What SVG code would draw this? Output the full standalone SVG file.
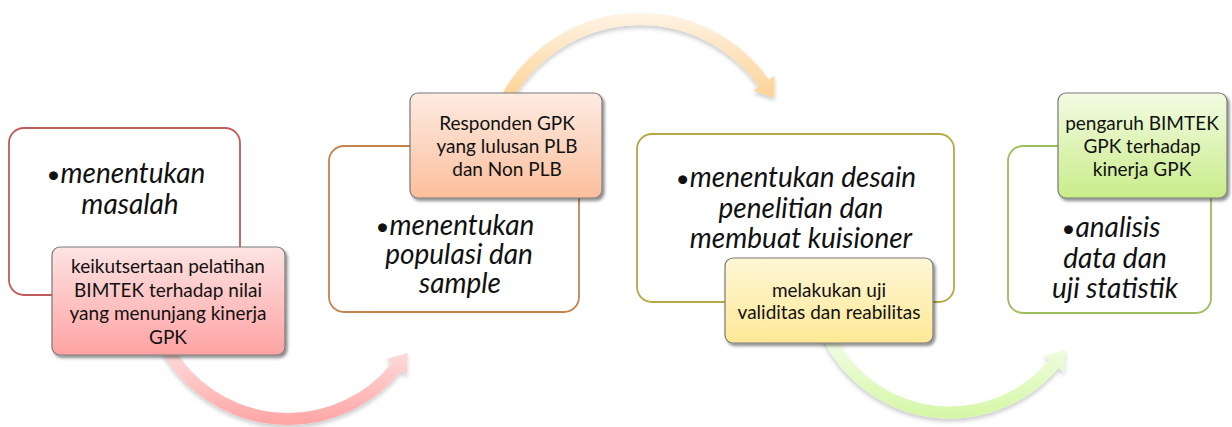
<svg xmlns="http://www.w3.org/2000/svg" width="1232" height="427" viewBox="0 0 1232 427">
<defs>
<style>
.main{fill:#fff;stroke-width:1.8}
.sub{stroke:#7a7a7a;stroke-width:1.2;filter:url(#sh)}
.mt{font-family:Lato,"Liberation Sans",sans-serif;font-style:italic;font-size:28px;fill:#111;text-anchor:middle}
.mt .b{font-style:normal;font-size:24px}
.st{font-family:Lato,"Liberation Sans",sans-serif;font-size:19px;fill:#111;text-anchor:middle}
.arc{fill:none;stroke-width:12}
</style>
<filter id="sh" x="-10%" y="-10%" width="130%" height="140%">
<feDropShadow dx="2" dy="2.5" stdDeviation="1.8" flood-color="#000" flood-opacity="0.45"/>
</filter>
<filter id="ash" x="-10%" y="-20%" width="130%" height="150%">
<feDropShadow dx="0" dy="3" stdDeviation="2" flood-color="#000" flood-opacity="0.2"/>
</filter>
<linearGradient id="g1" x1="0" y1="0" x2="0" y2="1"><stop offset="0" stop-color="#fde3e3"/><stop offset="1" stop-color="#ffa3a3"/></linearGradient>
<linearGradient id="g2" x1="0" y1="0" x2="0" y2="1"><stop offset="0" stop-color="#fdebe2"/><stop offset="1" stop-color="#fbbf9c"/></linearGradient>
<linearGradient id="g3" x1="0" y1="0" x2="0" y2="1"><stop offset="0" stop-color="#fdf7d6"/><stop offset="1" stop-color="#ffe896"/></linearGradient>
<linearGradient id="g4" x1="0" y1="0" x2="0" y2="1"><stop offset="0" stop-color="#f3fbe2"/><stop offset="1" stop-color="#c9ec8a"/></linearGradient>
<linearGradient id="a1" gradientUnits="userSpaceOnUse" x1="0" y1="350" x2="0" y2="422"><stop offset="0" stop-color="#ffdcdc"/><stop offset="1" stop-color="#ffa6a6"/></linearGradient>
<linearGradient id="a2" gradientUnits="userSpaceOnUse" x1="0" y1="14" x2="0" y2="100"><stop offset="0" stop-color="#fff3e4"/><stop offset="1" stop-color="#fdd193"/></linearGradient>
<linearGradient id="a3" gradientUnits="userSpaceOnUse" x1="0" y1="340" x2="0" y2="420"><stop offset="0" stop-color="#f1fde4"/><stop offset="1" stop-color="#d4f7a4"/></linearGradient>
</defs>

<g id="connectors">
<g filter="url(#ash)">
<path class="arc" stroke="url(#a1)" d="M167.6,349.5 A139,139 0 0 0 396.4,366.9"/>
<polygon fill="url(#a1)" points="407.8,353 406.6,375.1 386.4,358.9"/>
</g>
<g filter="url(#ash)">
<path class="arc" stroke="url(#a2)" d="M508.4,95 A152,152 0 0 1 763.9,83"/>
<polygon fill="url(#a2)" points="774.4,97.7 774.6,75.5 753.4,90.5"/>
</g>
<g filter="url(#ash)">
<path class="arc" stroke="url(#a3)" d="M827.2,334.3 A135.5,135.5 0 0 0 1053.8,364.1"/>
<polygon fill="url(#a3)" points="1065.4,350.3 1063.8,372.5 1043.8,355.7"/>
</g>
</g>

<g id="node1">
<rect class="main" x="9" y="128" width="231" height="167" rx="15" stroke="#c15a58"/>
<text class="mt" x="126" y="183"><tspan class="b">•</tspan>menentukan</text>
<text class="mt" x="130" y="214">masalah</text>
</g>
<g id="node1-detail">
<rect class="sub" x="52" y="247" width="233" height="108" rx="8" fill="url(#g1)"/>
<text class="st" x="168" y="273">keikutsertaan pelatihan</text>
<text class="st" x="168" y="296.5">BIMTEK terhadap nilai</text>
<text class="st" x="168" y="320">yang menunjang kinerja</text>
<text class="st" x="168" y="343.5">GPK</text>
</g>

<g id="node2">
<rect class="main" x="329" y="146" width="250" height="166" rx="15" stroke="#c4834f"/>
<text class="mt" x="455" y="235"><tspan class="b">•</tspan>menentukan</text>
<text class="mt" x="459" y="264">populasi dan</text>
<text class="mt" x="460" y="293">sample</text>
</g>
<g id="node2-detail">
<rect class="sub" x="410" y="93" width="192" height="105" rx="8" fill="url(#g2)"/>
<text class="st" x="507" y="130">Responden GPK</text>
<text class="st" x="507" y="153">yang lulusan PLB</text>
<text class="st" x="507" y="176">dan Non PLB</text>
</g>

<g id="node3">
<rect class="main" x="637" y="134" width="317" height="168" rx="15" stroke="#b6a844"/>
<text class="mt" x="796" y="187"><tspan class="b">•</tspan>menentukan desain</text>
<text class="mt" x="801" y="218">penelitian dan</text>
<text class="mt" x="801" y="248">membuat kuisioner</text>
</g>
<g id="node3-detail">
<rect class="sub" x="725" y="258" width="208" height="85" rx="8" fill="url(#g3)"/>
<text class="st" x="829" y="297">melakukan uji</text>
<text class="st" x="829" y="319">validitas dan reabilitas</text>
</g>

<g id="node4">
<rect class="main" x="1008" y="146" width="203" height="167" rx="15" stroke="#9cbd5b"/>
<text class="mt" x="1111" y="237"><tspan class="b">•</tspan>analisis</text>
<text class="mt" x="1115" y="268">data dan</text>
<text class="mt" x="1115" y="298">uji statistik</text>
</g>
<g id="node4-detail">
<rect class="sub" x="1058" y="93" width="169" height="105" rx="8" fill="url(#g4)"/>
<text class="st" x="1142" y="130">pengaruh BIMTEK</text>
<text class="st" x="1142" y="153">GPK terhadap</text>
<text class="st" x="1142" y="176">kinerja GPK</text>
</g>
</svg>
